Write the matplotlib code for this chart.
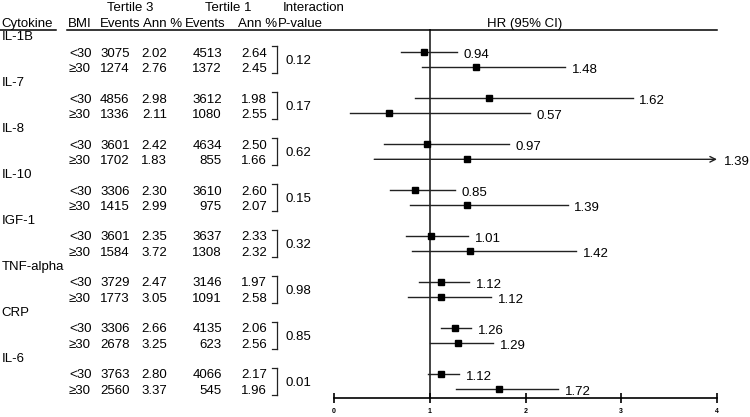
import matplotlib
matplotlib.use('Agg')
import matplotlib.pyplot as plt
from matplotlib.transforms import blended_transform_factory
from matplotlib.lines import Line2D

plt.rcParams['font.family'] = ['Liberation Sans', 'DejaVu Sans']

cytokines = ['IL-1B', 'IL-7', 'IL-8', 'IL-10', 'IGF-1', 'TNF-alpha', 'CRP', 'IL-6']
bmi_groups = ['<30', '≥30']

# BMI <30
events_t3_lt = [3075, 4856, 3601, 3306, 3601, 3729, 3306, 3763]
ann_t3_lt = ['2.02', '2.98', '2.42', '2.30', '2.35', '2.47', '2.66', '2.80']
events_t1_lt = [4513, 3612, 4634, 3610, 3637, 3146, 4135, 4066]
ann_t1_lt = ['2.64', '1.98', '2.50', '2.60', '2.33', '1.97', '2.06', '2.17']
hr_lt = [0.94, 1.62, 0.97, 0.85, 1.01, 1.12, 1.26, 1.12]
lo_lt = [0.70, 0.85, 0.52, 0.58, 0.75, 0.89, 1.12, 0.98]
hi_lt = [1.28, 3.12, 1.83, 1.26, 1.40, 1.41, 1.43, 1.31]

# BMI >=30
events_t3_ge = [1274, 1336, 1702, 1415, 1584, 1773, 2678, 2560]
ann_t3_ge = ['2.76', '2.11', '1.83', '2.99', '3.72', '3.05', '3.25', '3.37']
events_t1_ge = [1372, 1080, 855, 975, 1308, 1091, 623, 545]
ann_t1_ge = ['2.45', '2.55', '1.66', '2.07', '2.32', '2.58', '2.56', '1.96']
hr_ge = [1.48, 0.57, 1.39, 1.39, 1.42, 1.12, 1.29, 1.72]
lo_ge = [0.92, 0.17, 0.42, 0.79, 0.81, 0.77, 1.00, 1.27]
hi_ge = [2.41, 2.05, 4.50, 2.44, 2.53, 1.64, 1.66, 2.34]

p_interaction = ['0.12', '0.17', '0.62', '0.15', '0.32', '0.98', '0.85', '0.01']

W, H = 750, 417
fig = plt.figure(figsize=(7.5, 4.17), dpi=100)

# forest axes: x 0..4 between px 334 and 717, bottom at px 398, top line at px 29
ax = fig.add_axes([334 / W, 1 - 398 / H, (717 - 334) / W, (398 - 29) / H])
xmax = 4
ax.set_xlim(0, xmax)
ax.set_ylim(23.57, -0.5)
for s in ['top', 'left', 'right']:
    ax.spines[s].set_visible(False)
ax.spines['bottom'].set_linewidth(1.2)
ax.set_yticks([])
ax.set_xticks([0, 1, 2, 3, 4])
ax.tick_params(axis='x', direction='inout', length=7, width=1.2, labelsize=5, pad=4)
for lab in ax.get_xticklabels():
    lab.set_fontweight('bold')
ax.axvline(1, color='#111111', lw=1.1, zorder=1)

fs = 9.5
tr = blended_transform_factory(fig.transFigure, ax.transData)
lc = '#222222'

for g, name in enumerate(cytokines):
    y0 = g * 3
    ax.text(0 / W + 0.002, y0, name, transform=tr, fontsize=fs, va='center', ha='left')
    rows = [
        (y0 + 1, events_t3_lt[g], ann_t3_lt[g], events_t1_lt[g], ann_t1_lt[g], hr_lt[g], lo_lt[g], hi_lt[g]),
        (y0 + 2, events_t3_ge[g], ann_t3_ge[g], events_t1_ge[g], ann_t1_ge[g], hr_ge[g], lo_ge[g], hi_ge[g]),
    ]
    for (y, e3, a3, e1, a1, hr, lo, hi), b in zip(rows, bmi_groups):
        ax.text(69 / W, y + 0.1, b, transform=tr, fontsize=fs, va='center', ha='left')
        ax.text(100 / W, y + 0.1, str(e3), transform=tr, fontsize=fs, va='center', ha='left')
        ax.text(167 / W, y + 0.1, a3, transform=tr, fontsize=fs, va='center', ha='right')
        ax.text(222 / W, y + 0.1, str(e1), transform=tr, fontsize=fs, va='center', ha='right')
        ax.text(267 / W, y + 0.1, a1, transform=tr, fontsize=fs, va='center', ha='right')

        end = min(hi, xmax)
        if hi > xmax:
            ax.annotate('', xy=(end, y), xytext=(lo, y), annotation_clip=False,
                        arrowprops=dict(arrowstyle='->', color=lc, lw=1.0, shrinkA=0, shrinkB=0))
        else:
            ax.plot([lo, hi], [y, y], color=lc, lw=1.0, zorder=2)
        ax.plot(hr, y, marker='s', color='black', markersize=4.5, zorder=3)
        ax.text(end + 0.07, y + 0.2, f'{hr:.2f}', fontsize=fs, va='center', ha='left', clip_on=False)

    # bracket and interaction p-value
    yc = y0 + 1.5
    bx, bt = 277 / W, 272 / W
    for seg in ([bx, bx], [yc - 0.9, yc + 0.9]), ([bt, bx], [yc - 0.9, yc - 0.9]), ([bt, bx], [yc + 0.9, yc + 0.9]):
        ax.add_line(Line2D(seg[0], seg[1], transform=tr, color=lc, lw=0.9, clip_on=False))
    ax.text(285 / W, yc + 0.1, p_interaction[g], transform=tr, fontsize=fs, va='center', ha='left')

# headers
def ftext(x, y, s, **kw):
    fig.text(x / W, 1 - y / H, s, fontsize=fs, va='center', **kw)

ftext(130, 8, 'Tertile 3', ha='center')
ftext(228, 8, 'Tertile 1', ha='center')
ftext(283, 8, 'Interaction', ha='left')
ftext(1, 24, 'Cytokine', ha='left')
ftext(68, 24, 'BMI', ha='left')
ftext(100, 24, 'Events', ha='left')
ftext(143, 24, 'Ann %', ha='left')
ftext(185, 24, 'Events', ha='left')
ftext(238, 24, 'Ann %', ha='left')
ftext(278, 24, 'P-value', ha='left')
ftext(525, 24, 'HR (95% CI)', ha='center')

# header underline
yl = 1 - 29.5 / H
fig.add_artist(Line2D([0, 56 / W], [yl, yl], transform=fig.transFigure, color='black', lw=1.1))
fig.add_artist(Line2D([67 / W, 717 / W], [yl, yl], transform=fig.transFigure, color='black', lw=1.1))

fig.savefig('out.png', dpi=100)
